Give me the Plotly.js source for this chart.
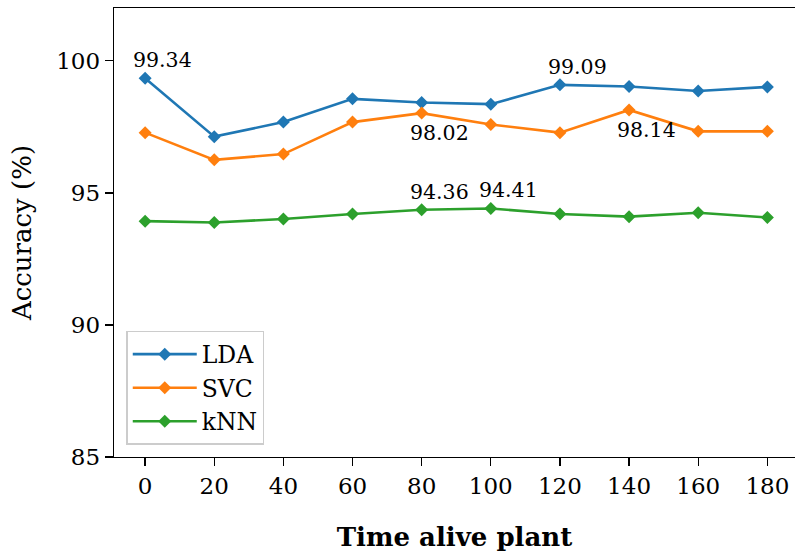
<!DOCTYPE html>
<html>
<head>
<meta charset="utf-8">
<script src="https://cdn.plot.ly/plotly-3.0.1.min.js"></script>
<style>html,body{margin:0;padding:0;background:#fff;}#chart{width:795px;height:553px;}</style>
</head>
<body>
<div id="chart"></div>
<script>
const timeAlive = [0, 20, 40, 60, 80, 100, 120, 140, 160, 180];
const ldaAcc = [99.34, 97.13, 97.68, 98.56, 98.42, 98.36, 99.09, 99.03, 98.86, 99.01];
const svcAcc = [97.28, 96.25, 96.47, 97.68, 98.02, 97.59, 97.28, 98.14, 97.33, 97.33];
const knnAcc = [93.93, 93.88, 94.01, 94.20, 94.36, 94.41, 94.20, 94.10, 94.25, 94.07];
const seriesNames = ["LDA", "SVC", "kNN"];
const seriesColors = ["#1f77b4", "#ff7f0e", "#2ca02c"];
const yTicks = [85, 90, 95, 100];
const xTicks = [0, 20, 40, 60, 80, 100, 120, 140, 160, 180];

const FONT = "DejaVu Serif, serif";
const allSeries = [ldaAcc, svcAcc, knnAcc];

const traces = allSeries.map((vals, i) => ({
  x: timeAlive, y: vals, name: seriesNames[i], type: "scatter", mode: "lines+markers",
  line: {color: seriesColors[i], width: 2.6},
  marker: {symbol: "diamond", size: 10, color: seriesColors[i]}
}));

// annotated points: [series index, point index, above?]
const labelled = [[0, 0, true], [0, 6, true], [1, 4, false], [1, 7, false], [2, 4, true], [2, 5, true]];
const annotations = labelled.map(([s, p, above]) => ({
  x: timeAlive[p], y: allSeries[s][p], xref: "x", yref: "y",
  text: allSeries[s][p].toFixed(2), showarrow: false,
  xanchor: "left", xshift: -14,
  yanchor: "middle", yshift: above ? 18 : -20,
  font: {family: FONT, size: 20.5, color: "#000"}
}));

const layout = {
  width: 795, height: 553,
  margin: {l: 114, r: 0, t: 8, b: 96},
  paper_bgcolor: "#fff", plot_bgcolor: "#fff",
  font: {family: FONT, color: "#000"},
  showlegend: true,
  legend: {
    x: 0.018, y: 0.027, xanchor: "left", yanchor: "bottom",
    bgcolor: "rgba(255,255,255,0.8)", bordercolor: "#cccccc", borderwidth: 1.5,
    itemwidth: 64,
    font: {family: FONT, size: 23.5, color: "#000"}
  },
  xaxis: {
    range: [-9, 188], tickvals: xTicks, ticktext: xTicks.map(String),
    showgrid: false, zeroline: false, showline: true, linecolor: "#000", linewidth: 1.3, mirror: true,
    ticks: "outside", ticklen: 8, tickwidth: 1.3, tickcolor: "#000",
    tickfont: {family: FONT, size: 23, color: "#000"},
    title: {text: "<b>Time alive plant</b>", font: {family: FONT, size: 26, color: "#000"}, standoff: 30}
  },
  yaxis: {
    range: [85, 102], tickvals: yTicks, ticktext: yTicks.map(String),
    showgrid: false, zeroline: false, showline: true, linecolor: "#000", linewidth: 1.3,
    ticks: "outside", ticklen: 8, tickwidth: 1.3, tickcolor: "#000",
    tickfont: {family: FONT, size: 23, color: "#000"},
    title: {text: "Accuracy (%)", font: {family: FONT, size: 26, color: "#000"}, standoff: 17}
  },
  annotations: annotations
};

Plotly.newPlot("chart", traces, layout, {displayModeBar: false, staticPlot: true});
</script>
</body>
</html>
